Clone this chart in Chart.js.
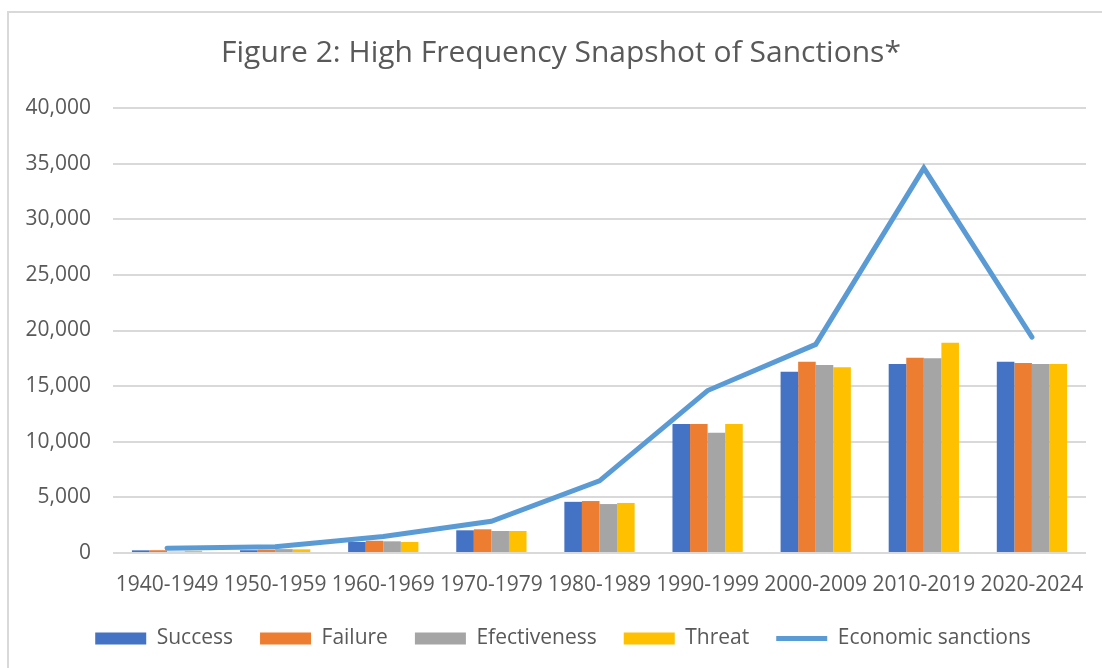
<!DOCTYPE html>
<html>
<head>
<meta charset="utf-8">
<script src="https://cdn.jsdelivr.net/npm/chart.js@4"></script>
<style>
  html, body { margin: 0; padding: 0; background: #fff; }
  #wrap { position: relative; width: 1102px; height: 668px; overflow: hidden; }
  #frame { position: absolute; left: 7px; top: 11px; width: 1200px; height: 700px;
           border-left: 2px solid #d9d9d9; border-top: 2px solid #d9d9d9; box-sizing: border-box; }
  canvas { position: absolute; left: 0; top: 0; }
</style>
</head>
<body>
<div id="wrap">
  <div id="frame"></div>
  <canvas id="sanctionsChart" width="1102" height="668"></canvas>
</div>
<script>
const decades = ["1940-1949", "1950-1959", "1960-1969", "1970-1979", "1980-1989",
                 "1990-1999", "2000-2009", "2010-2019", "2020-2024"];
const success      = [240, 250, 990, 2040, 4600, 11600, 16300, 17000, 17200];
const failure      = [250, 300, 1100, 2130, 4670, 11600, 17200, 17560, 17080];
const effectiveness = [120, 350, 1050, 1980, 4400, 10800, 16900, 17500, 17000];
const threat       = [200, 330, 990, 1980, 4500, 11600, 16700, 18900, 17000];
const economicSanctions = [420, 570, 1480, 2850, 6480, 14600, 18750, 34600, 19400];
const yTicks = [0, 5000, 10000, 15000, 20000, 25000, 30000, 35000, 40000];

const textColor = "#595959";
const font = "'Open Sans', 'DejaVu Sans', sans-serif";

// title and legend are centred a bit right of the canvas middle in the original
const shiftTitleLegend = {
    id: "shiftTitleLegend",
    afterLayout(chart) {
        if (chart.titleBlock) chart.titleBlock.left = 36;
        if (chart.legend) chart.legend.left = 40;
    }
};

document.addEventListener("DOMContentLoaded", function () {
    const ctx = document.getElementById("sanctionsChart").getContext("2d");

    // line first so it's drawn on top of the bars; legend sort puts it back last
    new Chart(ctx, {
        data: {
            labels: decades,
            datasets: [
                {
                    type: "line",
                    label: "Economic sanctions",
                    data: economicSanctions,
                    borderColor: "#5B9BD5",
                    backgroundColor: "#5B9BD5",
                    borderWidth: 5,
                    borderCapStyle: "round",
                    borderJoinStyle: "miter",
                    pointRadius: 0,
                    pointStyle: "line",
                    tension: 0
                },
                { type: "bar", label: "Success", data: success, backgroundColor: "#4472C4", borderColor: "#4472C4", borderWidth: 0, pointStyle: "rect" },
                { type: "bar", label: "Failure", data: failure, backgroundColor: "#ED7D31", borderColor: "#ED7D31", borderWidth: 0, pointStyle: "rect" },
                { type: "bar", label: "Efectiveness", data: effectiveness, backgroundColor: "#A5A5A5", borderColor: "#A5A5A5", borderWidth: 0, pointStyle: "rect" },
                { type: "bar", label: "Threat", data: threat, backgroundColor: "#FFC000", borderColor: "#FFC000", borderWidth: 0, pointStyle: "rect" }
            ]
        },
        options: {
            responsive: false,
            animation: false,
            categoryPercentage: 0.65,
            barPercentage: 1.0,
            layout: { padding: { left: 0, right: 16, top: 20, bottom: 9 } },
            plugins: {
                title: {
                    display: true,
                    text: "Figure 2: High Frequency Snapshot of Sanctions*",
                    color: textColor,
                    font: { family: font, size: 30, weight: "normal" },
                    padding: { top: 15, bottom: 37 }
                },
                legend: {
                    position: "bottom",
                    labels: {
                        color: textColor,
                        font: { family: font, size: 21 },
                        usePointStyle: true,
                        pointStyleWidth: 51,
                        boxHeight: 12,
                        padding: 27,
                        sort: (a, b) => {
                            const ka = a.datasetIndex === 0 ? 99 : a.datasetIndex;
                            const kb = b.datasetIndex === 0 ? 99 : b.datasetIndex;
                            return ka - kb;
                        }
                    }
                },
                tooltip: { enabled: false }
            },
            scales: {
                x: {
                    grid: { display: false },
                    border: { display: false },
                    ticks: { color: textColor, font: { family: font, size: 21 }, padding: 11, maxRotation: 0, autoSkip: false },
                    afterFit: (scale) => { scale.height = 48; }
                },
                y: {
                    min: 0,
                    max: 40000,
                    grid: { color: "#d9d9d9", lineWidth: 2, drawTicks: false },
                    border: { display: false },
                    afterBuildTicks: (scale) => { scale.ticks = yTicks.map(v => ({ value: v })); },
                    ticks: {
                        color: textColor,
                        font: { family: font, size: 21 },
                        padding: 22,
                        callback: (v) => v.toLocaleString("en-US")
                    },
                    afterFit: (scale) => { scale.width = 113; }
                }
            }
        },
        plugins: [shiftTitleLegend]
    });
});
</script>
</body>
</html>
